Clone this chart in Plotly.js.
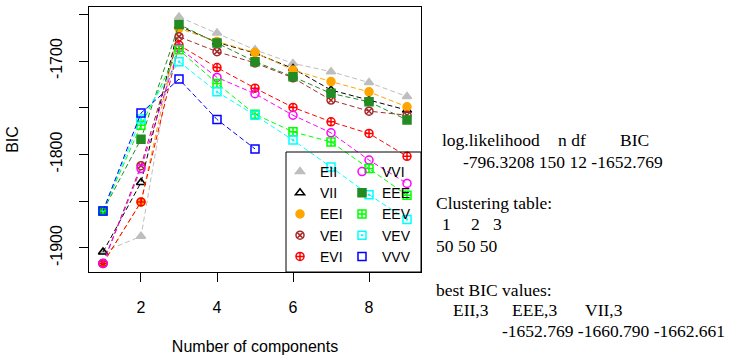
<!DOCTYPE html>
<html>
<head>
<meta charset="utf-8">
<script src="https://cdn.plot.ly/plotly-3.0.1.min.js"></script>
<style>html,body{margin:0;padding:0;background:#fff;}#chart{width:738px;height:355px;}</style>
</head>
<body>
<div id="chart"></div>
<script>
// ---- data ----
const components = [1, 2, 3, 4, 5, 6, 7, 8, 9];
const models = ['EII', 'VII', 'EEI', 'VEI', 'EVI', 'VVI', 'EEE', 'EEV', 'VEV', 'VVV'];
const bicEII = [-1904.3, -1887.5, -1652.769, -1670, -1688, -1702.5, -1711.4, -1723, -1738];
const bicVII = [-1904.3, -1830, -1662.661, -1680, -1691.5, -1708, -1731, -1741.8, -1752.5];
const bicEEI = [-1916.5, -1851, -1665, -1679, -1691, -1709.6, -1722, -1733, -1749];
const bicVEI = [-1916.5, -1812, -1674, -1690, -1702, -1718, -1741.8, -1753.6, -1758];
const bicEVI = [-1916.5, -1850.7, -1683, -1707, -1729, -1749.6, -1765, -1777.5, -1802];
const bicVVI = [-1916.5, -1815, -1686, -1717.5, -1735, -1758, -1776.8, -1806, -1831];
const bicEEE = [-1860.4, -1783.6, -1660.790, -1680.7, -1700.7, -1716.8, -1734.6, -1743.6, -1763];
const bicEEV = [-1860.4, -1768.6, -1688, -1724, -1757, -1775.7, -1786.5, -1815, -1843.6];
const bicVEV = [-1860.4, -1762, -1700.7, -1733, -1758, -1784.6, -1813.5, -1843, -1869.6];
const bicVVV = [-1860.4, -1755.7, -1719.3, -1762.5, -1794];
const bicValues = [bicEII, bicVII, bicEEI, bicVEI, bicEVI, bicVVI, bicEEE, bicEEV, bicVEV, bicVVV];
const colors = ['#BEBEBE', '#000000', '#FFA500', '#A52A2A', '#FF0000', '#FF00FF', '#228B22', '#00FF00', '#00FFFF', '#0000FF'];
const symbols = ['triangle-up', 'triangle-up-open', 'circle', 'circle-x-open', 'circle-cross-open', 'circle-open', 'square', 'square-cross-open', 'square-open-dot', 'square-open'];
const xTicks = [2, 4, 6, 8];
const yTicks = [-1900, -1850, -1800, -1750, -1700, -1650];
const yTickText = ['-1900', '', '-1800', '', '-1700', ''];

// summary text (printed output on the right)
const summaryLines = [
  ['log.likelihood', 'n df', 'BIC'],
  ['-796.3208 150 12 -1652.769'],
  ['Clustering table:'],
  ['1', '2', '3'],
  ['50 50 50'],
  ['best BIC values:'],
  ['EII,3', 'EEE,3', 'VII,3'],
  ['-1652.769 -1660.790 -1662.661']
];

// ---- geometry ----
const W = 738, H = 355;
const L = 89, R = 421, T = 7, B = 272;
const px2x = p => (p - L) / (R - L);
const px2y = p => (B - p) / (B - T);

const traces = [];
models.forEach((m, i) => {
  const ys = bicValues[i];
  const xs = components.slice(0, ys.length);
  traces.push({
    x: xs, y: ys, type: 'scatter', mode: 'lines', showlegend: false,
    line: {color: colors[i], width: 1, dash: '5px,3px'}, hoverinfo: 'skip'
  });
  traces.push({
    x: xs, y: ys, type: 'scatter', mode: 'markers', name: m,
    legend: i < 5 ? 'legend' : 'legend2',
    marker: {color: colors[i], symbol: symbols[i], size: 8, line: {color: colors[i], width: 1.5}}
  });
});

// summary annotations with pixel positions
const sumPos = [
  {y: 140, xs: [440, 556, 618]},
  {y: 162, xs: [461]},
  {y: 203, xs: [434]},
  {y: 224, xs: [440, 469, 491]},
  {y: 246, xs: [434]},
  {y: 290, xs: [434]},
  {y: 310, xs: [451, 510, 583]},
  {y: 331, xs: [500]}
];
const annotations = [];
summaryLines.forEach((toks, r) => {
  toks.forEach((t, k) => {
    annotations.push({
      xref: 'paper', yref: 'paper', x: px2x(sumPos[r].xs[k]), y: px2y(sumPos[r].y),
      xanchor: 'left', yanchor: 'middle', text: t, showarrow: false,
      font: {family: 'Liberation Serif', size: 17.5, color: '#000'}
    });
  });
});

const legendCommon = {
  bgcolor: 'rgba(0,0,0,0)', borderwidth: 0, orientation: 'v',
  font: {family: 'Liberation Sans, Arial, sans-serif', size: 14, color: '#000'},
  xanchor: 'left', yanchor: 'top', itemclick: false, itemdoubleclick: false,
  tracegroupgap: 0
};

const layout = {
  width: W, height: H,
  margin: {l: L, r: W - R, t: T, b: H - B, pad: 0},
  paper_bgcolor: '#fff', plot_bgcolor: '#fff',
  font: {family: 'Liberation Sans, Arial, sans-serif', size: 16, color: '#000'},
  xaxis: {
    range: [0.632, 9.368], tickvals: xTicks, ticks: 'outside', ticklen: 9, tickwidth: 1, tickcolor: '#000',
    showline: true, mirror: true, linecolor: '#000', linewidth: 1, showgrid: false, zeroline: false,
    tickfont: {size: 16}, ticklabelstandoff: 12,
    title: {text: 'Number of components', font: {size: 16}, standoff: 26}
  },
  yaxis: {
    range: [-1925.7, -1642.2], tickvals: yTicks, ticktext: yTickText, ticks: 'outside', ticklen: 9,
    tickwidth: 1, tickcolor: '#000', tickangle: -90,
    showline: true, mirror: true, linecolor: '#000', linewidth: 1, showgrid: false, zeroline: false,
    tickfont: {size: 16}, ticklabelstandoff: 11,
    title: {text: 'BIC', font: {size: 16}, standoff: 24}
  },
  legend: Object.assign({}, legendCommon, {x: px2x(280), y: px2y(156)}),
  legend2: Object.assign({}, legendCommon, {x: px2x(342), y: px2y(156)}),
  shapes: [{
    type: 'rect', xref: 'paper', yref: 'paper', x0: px2x(286), x1: 1, y0: 0, y1: px2y(152),
    line: {color: '#000', width: 1}, fillcolor: 'rgba(0,0,0,0)'
  }],
  annotations: annotations,
  showlegend: true
};

Plotly.newPlot('chart', traces, layout, {staticPlot: true, displayModeBar: false});
</script>
</body>
</html>
